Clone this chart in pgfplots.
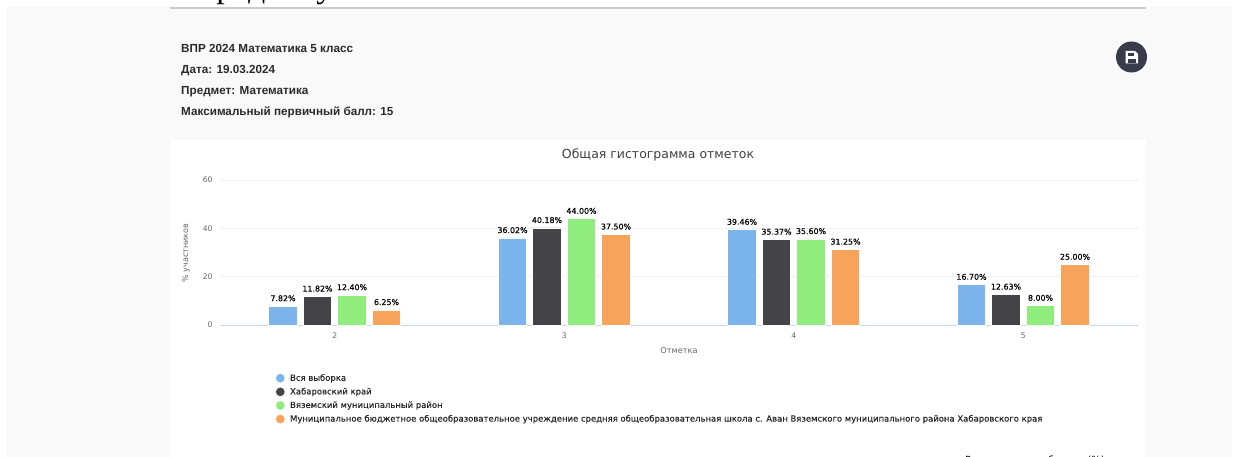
\documentclass[border=0pt]{standalone}
\usepackage{pgfplots}
\pgfplotsset{compat=1.18}
\usepackage{fontspec}
\setmainfont{DejaVu Sans}
\newfontfamily\labfont[FakeBold=0.35]{DejaVu Sans}
\newfontfamily\legfont[FakeBold=0.2]{DejaVu Sans}
\newfontfamily\headfont{Liberation Sans}
\newfontfamily\topfont{Liberation Serif}
\definecolor{pagegray}{HTML}{F9F9F9}
\definecolor{cblue}{HTML}{7CB5EC}
\definecolor{cdark}{HTML}{434348}
\definecolor{cgreen}{HTML}{90ED7D}
\definecolor{corange}{HTML}{F7A35C}
\definecolor{tickc}{HTML}{666666}
\definecolor{gridc}{HTML}{F0F0F0}
\definecolor{axisl}{HTML}{CCD6EB}
\definecolor{headc}{HTML}{2B2B2B}
\definecolor{btn}{HTML}{383C4A}
\begin{document}
\begin{tikzpicture}[x=1bp,y=-1bp]
\useasboundingbox (0,0) rectangle (1249,457);
\begin{scope}
\clip (0,0) rectangle (1249,457);
\fill[white] (0,0) rectangle (1249,457);
\fill[pagegray] (7,6) rectangle (1232,457);
\fill[white] (170,140) rectangle (1146,457);
\fill[white] (170,0) rectangle (1146,7);
\fill[black!20] (170,7.4) rectangle (1146,8.8);
\node[anchor=base west,font=\topfont\fontsize{34bp}{34bp}\selectfont,inner sep=0pt] at (198,-2) {предмету};
\node[anchor=base west,font=\fontsize{9.8bp}{9.8bp}\selectfont,inner sep=0pt] at (965,463.5) {Распределение баллов (\%)};
\foreach \mytext/\myy in {{ВПР 2024 Математика 5 класс}/53,{Дата: 19.03.2024}/74,{Предмет: Математика}/95,{Максимальный первичный балл: 15}/116}
  \node[anchor=base west,inner sep=0pt,text=headc,font=\headfont\bfseries\fontsize{11.7bp}{11.7bp}\selectfont] at (181,\myy) {\mytext};
\fill[btn] (1131.5,57) circle (15.5);
\fill[white] (1125.5,51) -- (1135,51) -- (1138,54) -- (1138,63.5) -- (1125.5,63.5) -- cycle;
\fill[btn] (1127.8,52.6) rectangle (1133.5,56);
\fill[btn] (1128,59) rectangle (1135.6,63.5);
\node[anchor=base,font=\fontsize{12.5bp}{12.5bp}\selectfont,text=black!75] at (658,159) {Общая гистограмма отметок};
\end{scope}
\begin{axis}[
  at={(220bp,-325bp)}, anchor=south west,
  scale only axis, width=918bp, height=145bp,
  xmin=-0.5, xmax=3.5, ymin=0, ymax=60,
  xtick={0,1,2,3}, xticklabels={2,3,4,5},
  ytick={0,20,40,60},
  ymajorgrids, grid style={gridc, line width=0.9bp},
  axis x line*=bottom, axis y line*=left,
  y axis line style={draw=none},
  x axis line style={axisl, line width=1bp, -},
  major tick length=0pt,
  /pgf/number format/assume math mode=true,
  tick label style={text=tickc, font=\fontsize{7.6bp}{7.6bp}\selectfont},
  x tick label style={yshift=-4bp},
  y tick label style={xshift=-4bp},
  ybar, bar width=28.5bp,
  nodes near coords,
  point meta=explicit symbolic,
  every node near coord/.append style={font=\labfont\fontsize{7.9bp}{7.9bp}\selectfont, text=black, inner sep=0pt, yshift=4.5bp, anchor=south},
  legend cell align=left,
  legend style={at={(0.0599,-0.324)}, draw=none, fill=none, font=\legfont\fontsize{8.47bp}{8.47bp}\selectfont, text=black!85, row sep=1.6bp, inner sep=0pt, anchor=north west},
  legend image code/.code={\fill[#1] (0.12cm,0bp) circle (4.8bp);\path (0.12cm+7.5bp,0bp);},
  clip=false,
]
\addplot[fill=cblue,draw=white,line width=.6bp,bar shift=-51.75bp] coordinates {(0,7.82)[7.82\%] (1,36.02)[36.02\%] (2,39.46)[39.46\%] (3,16.70)[16.70\%]};
\addplot[fill=cdark,draw=white,line width=.6bp,bar shift=-17.25bp] coordinates {(0,11.82)[11.82\%] (1,40.18)[40.18\%] (2,35.37)[35.37\%] (3,12.63)[12.63\%]};
\addplot[fill=cgreen,draw=white,line width=.6bp,bar shift=17.25bp] coordinates {(0,12.40)[12.40\%] (1,44.00)[44.00\%] (2,35.60)[35.60\%] (3,8.00)[8.00\%]};
\addplot[fill=corange,draw=white,line width=.6bp,bar shift=51.75bp] coordinates {(0,6.25)[6.25\%] (1,37.50)[37.50\%] (2,31.25)[31.25\%] (3,25.00)[25.00\%]};
\legend{Вся выборка,Хабаровский край,Вяземский муниципальный район,Муниципальное бюджетное общеобразовательное учреждение средняя общеобразовательная школа с. Аван Вяземского муниципального района Хабаровского края}
\end{axis}
\node[rotate=90,anchor=center,text=tickc,font=\fontsize{8bp}{8bp}\selectfont] at (186,253) {\% участников};
\node[anchor=center,text=tickc,font=\fontsize{8.2bp}{8.2bp}\selectfont] at (679,351) {Отметка};
\end{tikzpicture}
\end{document}
